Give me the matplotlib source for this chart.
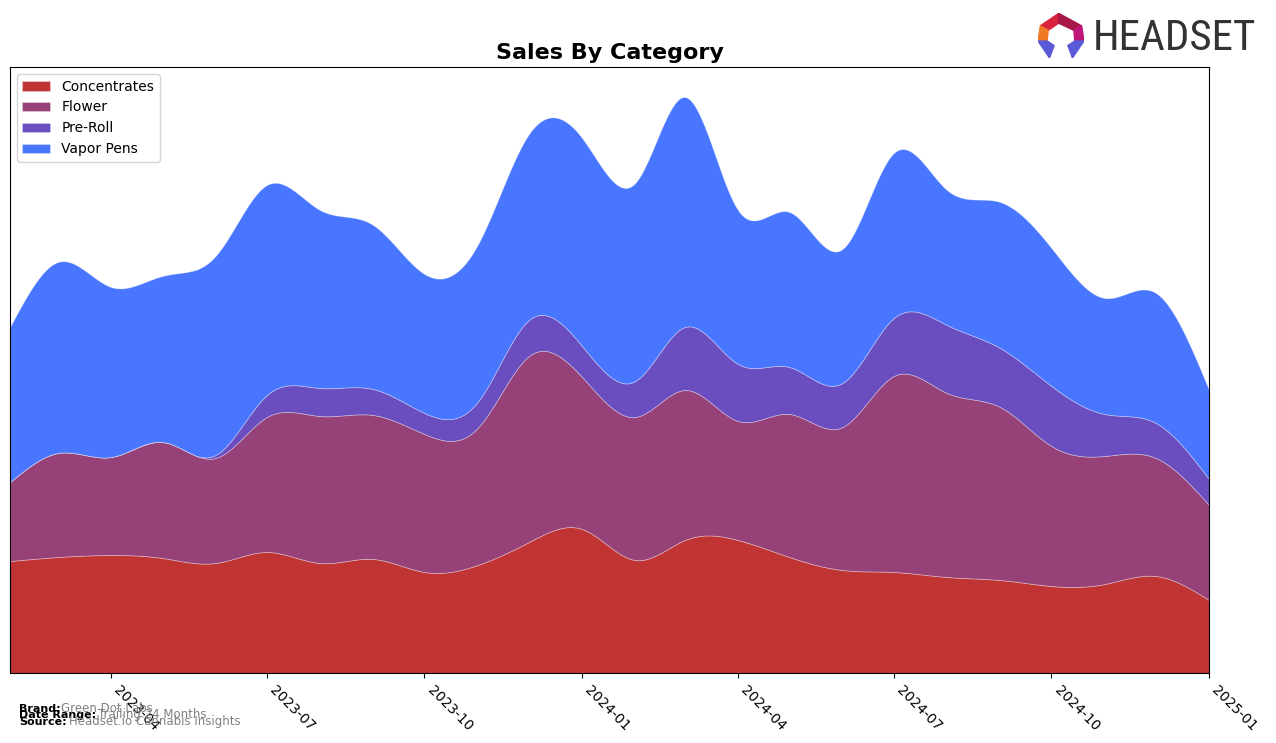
import numpy as np
import matplotlib
matplotlib.use('Agg')
from matplotlib import pyplot as plt
from matplotlib import font_manager
import matplotlib.dates as mdates
from matplotlib.patches import Polygon
import datetime as dt

# monthly values (arbitrary units)
months = ['2023-02', '2023-03', '2023-04', '2023-05', '2023-06', '2023-07',
          '2023-08', '2023-09', '2023-10', '2023-11', '2023-12', '2024-01',
          '2024-02', '2024-03', '2024-04', '2024-05', '2024-06', '2024-07',
          '2024-08', '2024-09', '2024-10', '2024-11', '2024-12', '2025-01']
concentrates = [112, 116, 118, 115, 110, 121, 110, 114, 101, 108, 131, 144,
                113, 133, 133, 116, 103, 101, 96, 93, 87, 89, 97, 73]
flower = [79, 104, 98, 116, 105, 135, 147, 144, 138, 137, 186, 152,
          143, 150, 119, 143, 143, 196, 184, 173, 140, 128, 118, 95]
pre_roll = [0, 0, 0, 0, 3, 22, 28, 26, 21, 26, 36, 31,
            36, 63, 57, 47, 44, 58, 68, 59, 60, 42, 35, 26]
vapor_pens = [155, 191, 170, 166, 199, 210, 178, 164, 139, 157, 186, 208,
              198, 230, 154, 155, 134, 165, 135, 146, 138, 116, 130, 89]

categories = ['Concentrates', 'Flower', 'Pre-Roll', 'Vapor Pens']
colors = ['#c03434', '#964278', '#6a4dbe', '#4876ff']


def natural_spline(x, y, xs):
    x = np.asarray(x, float)
    y = np.asarray(y, float)
    n = len(x)
    h = np.diff(x)
    A = np.zeros((n, n))
    b = np.zeros(n)
    A[0, 0] = 1
    A[-1, -1] = 1
    for i in range(1, n - 1):
        A[i, i - 1] = h[i - 1]
        A[i, i] = 2 * (h[i - 1] + h[i])
        A[i, i + 1] = h[i]
        b[i] = 3 * ((y[i + 1] - y[i]) / h[i] - (y[i] - y[i - 1]) / h[i - 1])
    c = np.linalg.solve(A, b)
    bc = (y[1:] - y[:-1]) / h - h * (2 * c[:-1] + c[1:]) / 3
    d = (c[1:] - c[:-1]) / (3 * h)
    idx = np.clip(np.searchsorted(x, xs) - 1, 0, n - 2)
    dx = xs - x[idx]
    return y[idx] + bc[idx] * dx + c[idx] * dx ** 2 + d[idx] * dx ** 3


x = mdates.date2num([dt.datetime.strptime(m, '%Y-%m') for m in months])
xs = np.linspace(x[0], x[-1], 800)
layers = [np.clip(natural_spline(x, s, xs), 0, None)
          for s in (concentrates, flower, pre_roll, vapor_pens)]

fig = plt.figure(figsize=(12.76, 7.43), dpi=100)
ax = fig.add_axes([0.0078, 0.0942, 0.9397, 0.8156])
ax.stackplot(xs, *layers, labels=categories, colors=colors,
             edgecolor=(1, 1, 1, 0.35), linewidth=0.6)
ax.set_xlim(x[0], x[-1])
ax.set_ylim(0, 606)
ax.set_yticks([])
ax.xaxis.set_major_locator(mdates.MonthLocator(bymonth=[1, 4, 7, 10]))
ax.xaxis.set_major_formatter(mdates.DateFormatter('%Y-%m'))
plt.setp(ax.get_xticklabels(), rotation=-45, ha='left', fontsize=10)
ax.set_title('Sales By Category', fontsize=16, fontweight='bold', pad=6)
ax.legend(loc='upper left', fontsize=10)

# footer
fig.text(0.015, 0.042, 'Brand:', fontsize=8, fontweight='bold')
fig.text(0.048, 0.042, 'Green Dot Labs', fontsize=8.5, color='gray')
fig.text(0.015, 0.033, 'Date Range:', fontsize=8, fontweight='bold')
fig.text(0.077, 0.033, 'Trailing 24 Months', fontsize=8.5, color='gray')
fig.text(0.015, 0.024, 'Source:', fontsize=8, fontweight='bold')
fig.text(0.054, 0.024, 'Headset.io Cannabis Insights', fontsize=8.5, color='gray')

# logo - pick a narrow font if one is around
names = {f.name for f in font_manager.fontManager.ttflist}
if 'Liberation Sans Narrow' in names:
    logo_font, logo_size = 'Liberation Sans Narrow', 33
elif 'Roboto Condensed' in names:
    logo_font, logo_size = 'Roboto Condensed', 31
else:
    logo_font, logo_size = 'DejaVu Sans', 25
fig.text(0.8565, 0.948, 'HEADSET', fontsize=logo_size, color='#333333',
         family=logo_font, va='center')
lax = fig.add_axes([0.8135, 0.922, 0.036, 0.06])
lax.set_xlim(0, 1)
lax.set_ylim(0, 1)
lax.axis('off')
shapes = [
    ([(0.05, 0.72), (0.45, 1.0), (0.45, 0.78), (0.22, 0.62)], '#d8213a'),
    ([(0.45, 1.0), (0.95, 0.72), (0.78, 0.62), (0.45, 0.78)], '#a8174a'),
    ([(0.05, 0.72), (0.22, 0.62), (0.2, 0.38), (0.0, 0.38)], '#f07a22'),
    ([(0.95, 0.72), (1.0, 0.38), (0.8, 0.38), (0.78, 0.62)], '#c0167a'),
    ([(0.0, 0.38), (0.2, 0.38), (0.35, 0.28), (0.25, 0.0)], '#5a5ad8'),
    ([(1.0, 0.38), (0.8, 0.38), (0.65, 0.28), (0.75, 0.0)], '#5a5ad8'),
]
for pts, col in shapes:
    lax.add_patch(Polygon(pts, closed=True, color=col))

fig.savefig('out.png', dpi=100)
